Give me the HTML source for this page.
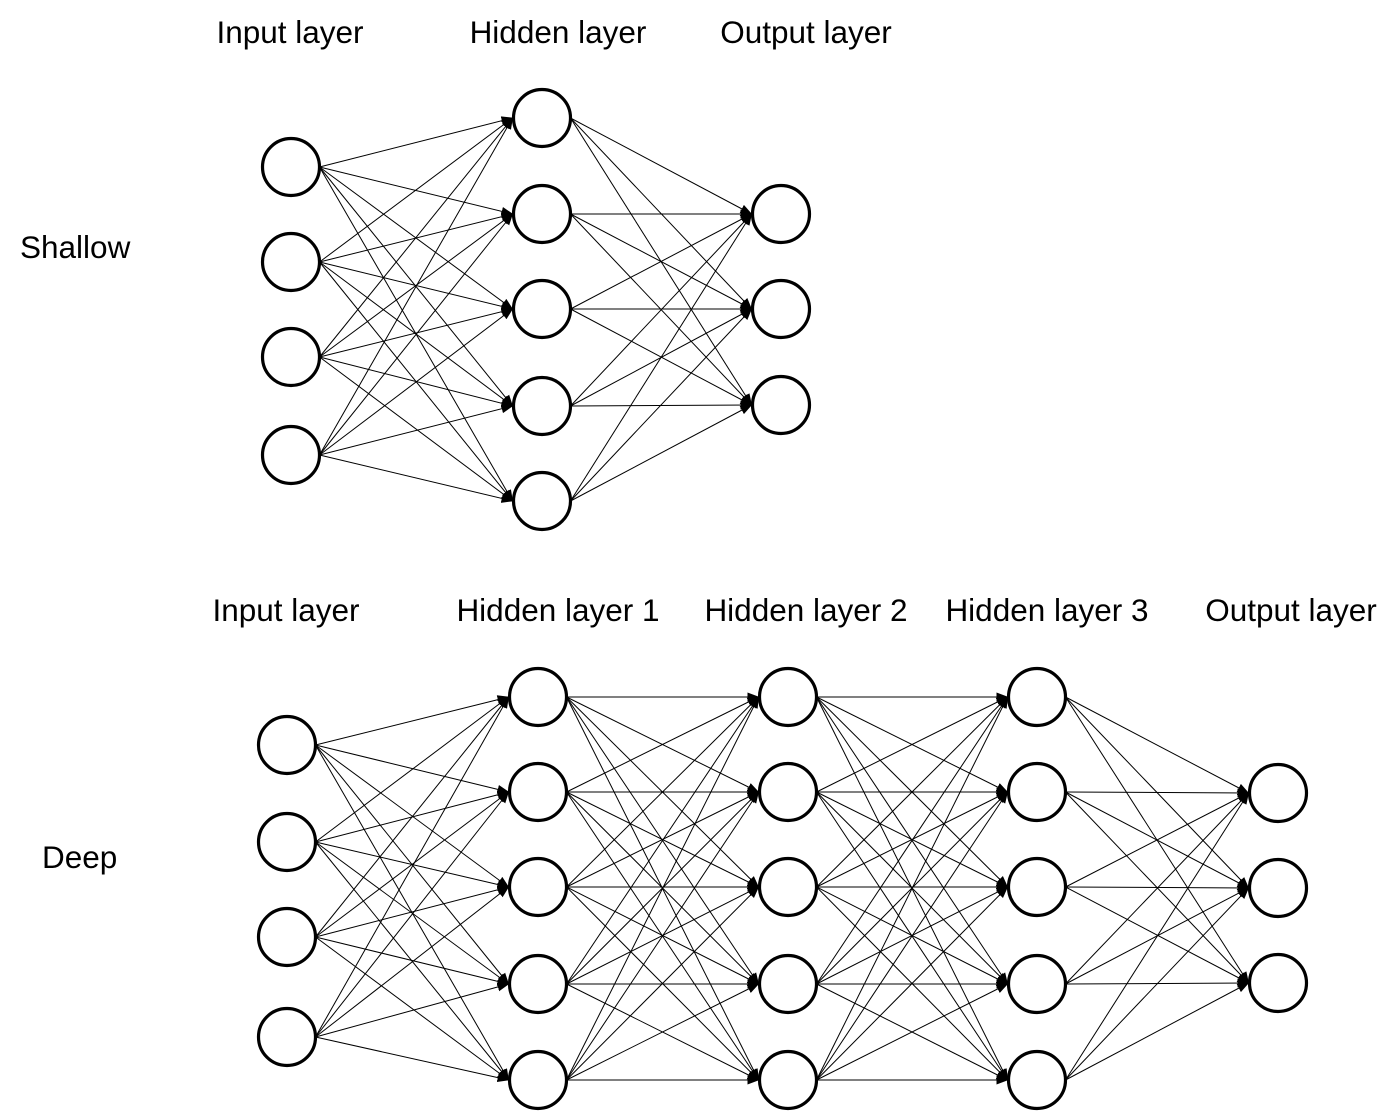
<!DOCTYPE html>
<html><head><meta charset="utf-8"><style>
html,body{margin:0;padding:0;background:#fff;}
svg text{font-family:"Liberation Sans",Arial,sans-serif;font-size:31.5px;fill:#000;}
</style></head><body>
<svg id="s" width="1400" height="1113" xmlns="http://www.w3.org/2000/svg">
<defs><marker id="a" markerWidth="12" markerHeight="12" refX="11" refY="6" orient="auto" markerUnits="userSpaceOnUse"><path d="M0,1.5 L12,6 L0,10.5 Z" fill="#000"/></marker></defs>
<text x="290" y="43" text-anchor="middle">Input layer</text>
<text x="558" y="43" text-anchor="middle">Hidden layer</text>
<text x="806" y="43" text-anchor="middle">Output layer</text>
<text x="20" y="258">Shallow</text>
<text x="286" y="621" text-anchor="middle">Input layer</text>
<text x="558" y="621" text-anchor="middle">Hidden layer 1</text>
<text x="806" y="621" text-anchor="middle">Hidden layer 2</text>
<text x="1047" y="621" text-anchor="middle">Hidden layer 3</text>
<text x="1291" y="621" text-anchor="middle">Output layer</text>
<text x="42" y="868">Deep</text>
<g id="g"></g>
</svg>
<script>
var g=document.getElementById('g'),NS='http://www.w3.org/2000/svg',R=28.5;
function net(layers){
 for(var l=0;l<layers.length-1;l++){var A=layers[l],B=layers[l+1];
  A.ys.forEach(function(y1){B.ys.forEach(function(y2){
   var ln=document.createElementNS(NS,'line');
   ln.setAttribute('x1',A.x+R);ln.setAttribute('y1',y1);
   ln.setAttribute('x2',B.x-R-1);ln.setAttribute('y2',y2);
   ln.setAttribute('stroke','#000');ln.setAttribute('stroke-width','1');
   ln.setAttribute('marker-end','url(#a)');g.appendChild(ln);});});}
 layers.forEach(function(L){L.ys.forEach(function(y){
  var c=document.createElementNS(NS,'circle');c.setAttribute('cx',L.x);c.setAttribute('cy',y);
  c.setAttribute('r',R);c.setAttribute('fill','#fff');c.setAttribute('stroke','#000');c.setAttribute('stroke-width','3.2');g.appendChild(c);});});
}
net([{x:291,ys:[167,262,357,455]},{x:542,ys:[118,214,309,406,501]},{x:781,ys:[214,309,405]}]);
var H=[697,792,887,984,1080];
net([{x:287,ys:[745,842,937,1037]},{x:538,ys:H},{x:788,ys:H},{x:1037,ys:H},{x:1278,ys:[793,888,983]}]);
</script>
</body></html>
